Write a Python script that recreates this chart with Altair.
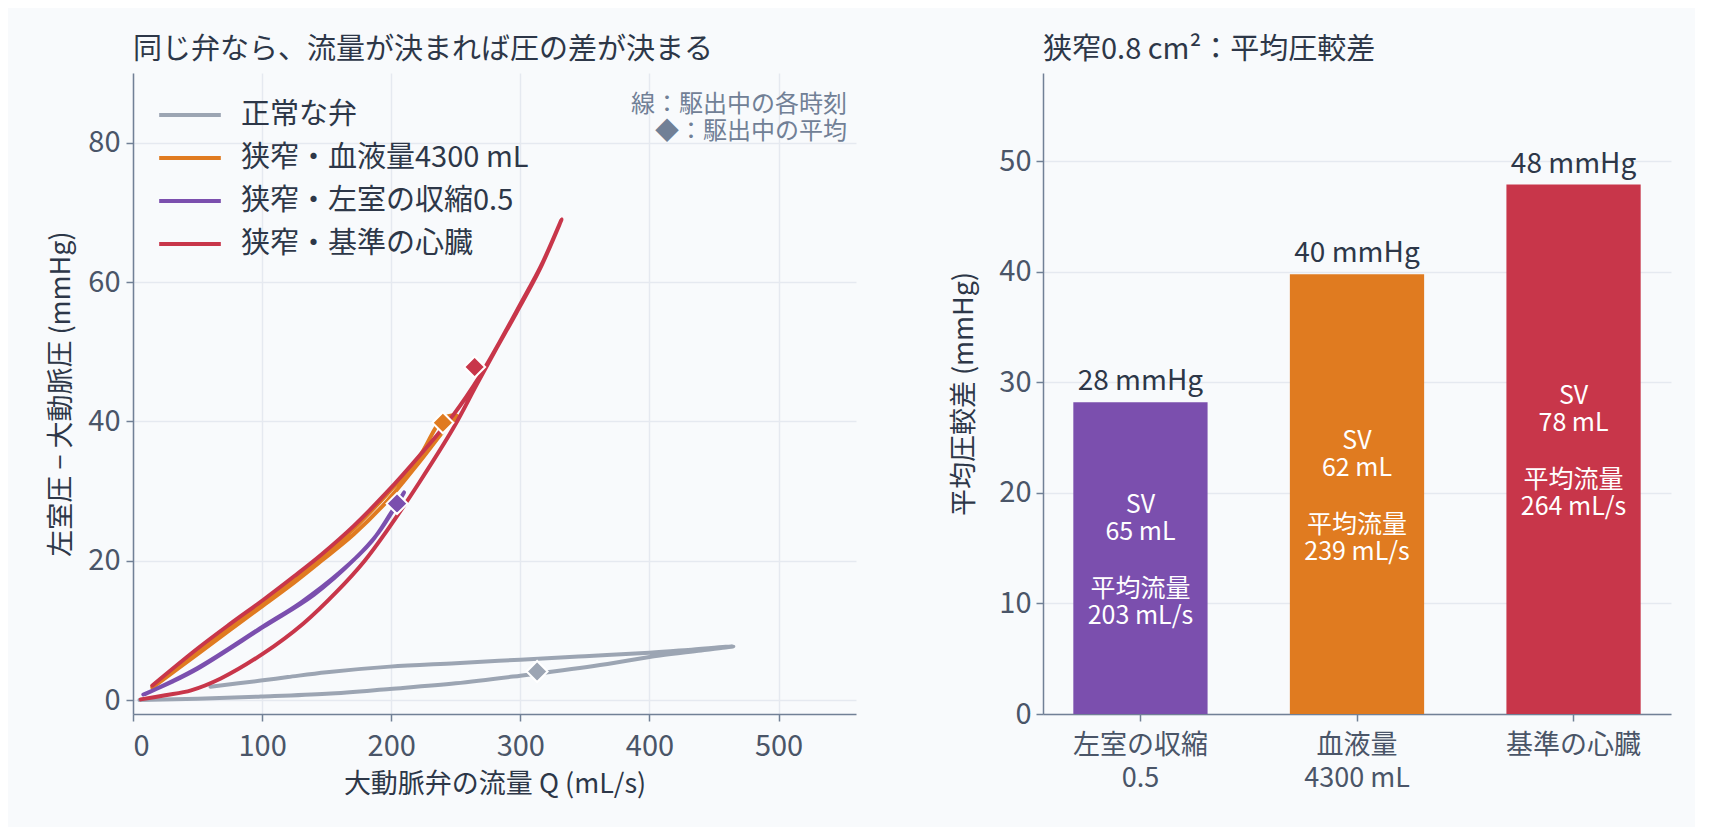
import altair as alt
import pandas as pd

FONT = "Noto Sans CJK JP"
DARK = "#2d3748"
MID = "#4a5568"
AXIS = "#718096"
GRID = "#e5e9f0"
BG = "#f8fafc"

SERIES = ["正常な弁", "狭窄・血液量4300 mL", "狭窄・左室の収縮0.5", "狭窄・基準の心臓"]
COLORS = ["#9ca5b3", "#e07b20", "#7b4fae", "#c8364a"]

# 各時刻の (流量, 圧較差) — ループ状に読み取り
normal_q = [5, 50, 99, 150, 199, 250, 300, 357, 408, 440, 465,
            430, 400, 350, 300, 250, 199, 150, 120, 99, 60]
normal_dp = [0.0, 0.2, 0.5, 0.9, 1.6, 2.4, 3.5, 4.9, 6.4, 7.1, 7.7,
             7.2, 6.8, 6.3, 5.8, 5.3, 4.8, 4.0, 3.3, 2.8, 1.9]

volume_q = [15, 50, 101, 125, 146, 171, 197, 222, 243, 251,
            240, 222, 197, 171, 146, 125, 101, 50, 15]
volume_dp = [1.8, 6.6, 13.6, 16.9, 20.0, 23.8, 28.6, 34.2, 39.2, 40.8,
             40.4, 35.0, 29.6, 24.6, 20.5, 17.4, 14.1, 7.1, 2.0]

contract_q = [8, 30, 50, 101, 140, 172, 190, 204, 210,
              200, 185, 160, 130, 101, 50, 10]
contract_dp = [0.8, 2.6, 4.5, 10.5, 15.1, 20.3, 24.0, 28.0, 29.8,
               26.9, 22.8, 18.3, 14.0, 10.6, 4.6, 0.9]

base_q = [6, 25, 45, 68, 101, 132, 158, 179, 197, 222, 248, 266, 281, 297, 315, 332,
          316, 300, 284, 269, 248, 222, 197, 171, 146, 125, 101, 75, 50, 15]
base_dp = [0.1, 0.7, 1.4, 3.1, 6.7, 11.0, 15.6, 19.9, 24.4, 31.3, 39.0, 45.2, 50.3, 55.6, 61.8, 69.0,
           62.3, 56.8, 51.4, 46.6, 40.9, 35.1, 29.9, 25.0, 20.9, 17.8, 14.4, 10.9, 7.4, 2.1]

# 駆出中の平均
mean_q = [313, 240, 204.5, 264.6]
mean_dp = [4.1, 39.8, 28.2, 47.8]

# 右図
BAR_LABELS = ["左室の収縮\n0.5", "血液量\n4300 mL", "基準の心臓"]
bar_dp = [28.2, 39.8, 47.9]
bar_sv = [65, 62, 78]
bar_flow = [203, 239, 264]
BAR_COLORS = ["#7b4fae", "#e07b20", "#c8364a"]

rows = []
for name, qs, dps in zip(
    SERIES,
    [normal_q, volume_q, contract_q, base_q],
    [normal_dp, volume_dp, contract_dp, base_dp],
):
    for i, (q, dp) in enumerate(zip(qs, dps)):
        rows.append({"series": name, "i": i, "Q": q, "dP": dp})
curves = pd.DataFrame(rows)
means = pd.DataFrame({"series": SERIES, "Q": mean_q, "dP": mean_dp})

color = alt.Color(
    "series:N",
    scale=alt.Scale(domain=SERIES, range=COLORS),
    legend=alt.Legend(
        title=None,
        orient="none",
        legendX=24,
        legendY=22,
        symbolType="stroke",
        symbolSize=3800,
        symbolStrokeWidth=4,
        clipHeight=40,
        rowPadding=3,
        labelFontSize=29,
        labelColor=DARK,
        labelOffset=18,
        labelLimit=0,
        padding=0,
    ),
)

x_q = alt.X(
    "Q:Q",
    title="大動脈弁の流量 Q (mL/s)",
    scale=alt.Scale(domain=[0, 560], nice=False),
    axis=alt.Axis(values=[0, 100, 200, 300, 400, 500], labelPadding=11, titlePadding=10),
)
y_dp = alt.Y(
    "dP:Q",
    title="左室圧 − 大動脈圧 (mmHg)",
    scale=alt.Scale(domain=[-2, 90], nice=False),
    axis=alt.Axis(values=[0, 20, 40, 60, 80], titlePadding=12, labelPadding=6),
)

lines = (
    alt.Chart(curves)
    .mark_line(strokeWidth=4, strokeCap="round", strokeJoin="round", interpolate="catmull-rom")
    .encode(x=x_q, y=y_dp, color=color, order="i:Q", detail="series:N")
)

diamonds = (
    alt.Chart(means)
    .mark_point(shape="diamond", filled=True, size=440, stroke="white", strokeWidth=2, opacity=1)
    .encode(
        x="Q:Q",
        y="dP:Q",
        fill=alt.Fill("series:N", scale=alt.Scale(domain=SERIES, range=COLORS), legend=None),
    )
)

note = (
    alt.Chart(pd.DataFrame({"t": ["線：駆出中の各時刻\n◆：駆出中の平均"]}))
    .mark_text(align="right", baseline="middle", fontSize=24, color=AXIS, lineBreak="\n", lineHeight=27)
    .encode(x=alt.value(714), y=alt.value(32), text="t:N")
)

left = alt.layer(lines, diamonds, note).properties(
    width=723,
    height=641,
    title=alt.Title("同じ弁なら、流量が決まれば圧の差が決まる", anchor="start", frame="group",
                    fontSize=29, color=DARK, fontWeight="normal", offset=8),
)

bars_df = pd.DataFrame({
    "scenario": BAR_LABELS,
    "dP": bar_dp,
    "label": [f"{round(v)} mmHg" for v in bar_dp],
    "sv": [f"SV\n{s} mL" for s in bar_sv],
    "flow": [f"平均流量\n{f} mL/s" for f in bar_flow],
})

x_bar = alt.X(
    "scenario:N",
    title=None,
    sort=BAR_LABELS,
    scale=alt.Scale(paddingInner=0.38, paddingOuter=0.14),
    axis=alt.Axis(labelAngle=0, labelExpr="split(datum.label, '\\n')", grid=False,
                  labelFontSize=27, labelLineHeight=33, labelPadding=11),
)
y_bar = alt.Y(
    "dP:Q",
    title="平均圧較差 (mmHg)",
    scale=alt.Scale(domain=[0, 58], nice=False),
    axis=alt.Axis(values=[0, 10, 20, 30, 40, 50], titlePadding=20, labelPadding=5),
)

bars = (
    alt.Chart(bars_df)
    .mark_bar()
    .encode(
        x=x_bar,
        y=y_bar,
        color=alt.Color("scenario:N", scale=alt.Scale(domain=BAR_LABELS, range=BAR_COLORS), legend=None),
    )
)
bar_text = (
    alt.Chart(bars_df)
    .mark_text(baseline="bottom", dy=-6, fontSize=28, color=DARK)
    .encode(x=alt.X("scenario:N", sort=BAR_LABELS), y="dP:Q", text="label:N")
)


def inner(field, dy):
    return (
        alt.Chart(bars_df)
        .transform_calculate(mid="datum.dP / 2")
        .mark_text(baseline="middle", fontSize=25, color="white", lineBreak="\n", lineHeight=27, dy=dy)
        .encode(x=alt.X("scenario:N", sort=BAR_LABELS), y="mid:Q", text=f"{field}:N")
    )


right = alt.layer(bars, bar_text, inner("sv", -53), inner("flow", 31)).properties(
    width=628,
    height=641,
    title=alt.Title("狭窄0.8 cm²：平均圧較差", anchor="start", frame="group",
                    fontSize=29, color=DARK, fontWeight="normal", offset=8),
)

chart = (
    alt.hconcat(left, right, spacing=94)
    .resolve_scale(color="independent", fill="independent")
    .properties(background=BG, padding={"left": 39, "top": 28, "right": 24, "bottom": 30})
    .configure(font=FONT)
    .configure_view(stroke=None)
    .configure_axis(
        labelFont=FONT,
        titleFont=FONT,
        labelFontSize=29,
        titleFontSize=27,
        labelColor=MID,
        titleColor=DARK,
        titleFontWeight="normal",
        domainColor=AXIS,
        domainWidth=1.5,
        tickColor=AXIS,
        tickSize=7,
        tickWidth=1.5,
        gridColor=GRID,
        gridWidth=1.5,
    )
)

chart.save("out.html", embed_options={"renderer": "svg", "actions": False})
